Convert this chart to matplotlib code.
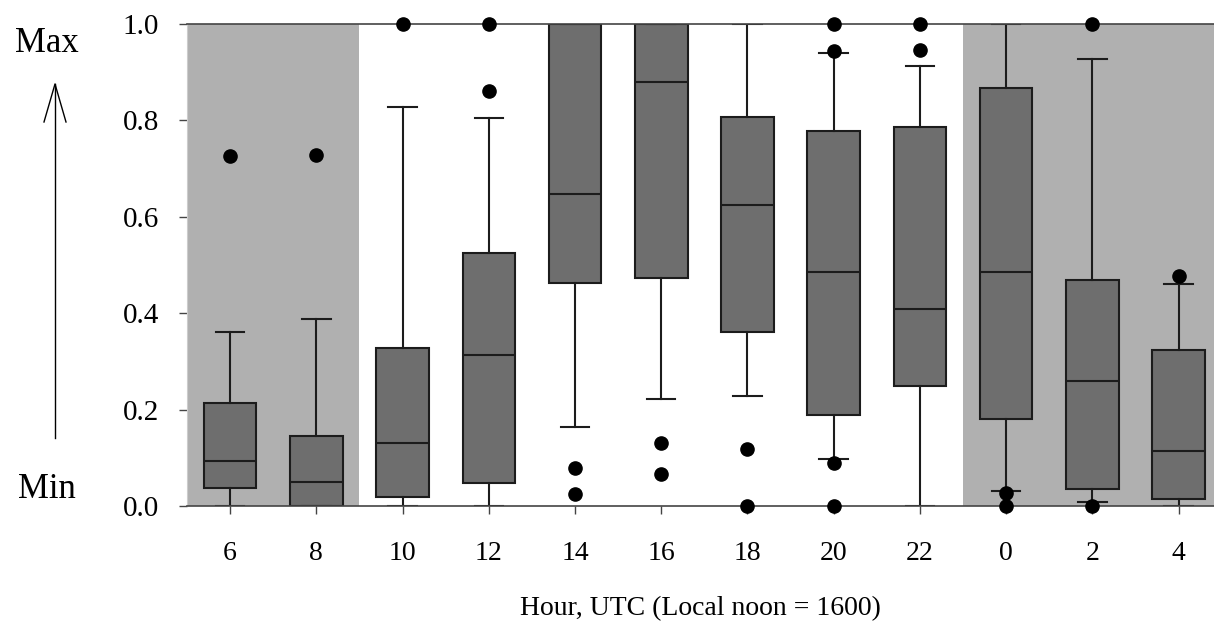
import matplotlib
matplotlib.use("Agg")
import matplotlib.pyplot as plt
from matplotlib.lines import Line2D

hours = ["6", "8", "10", "12", "14", "16", "18", "20", "22", "0", "2", "4"]
whislo = [0.0, 0.0, 0.0, 0.0, 0.163, 0.221, 0.228, 0.0975, 0.0, 0.031, 0.009, 0.0]
q1 = [0.037, 0.0, 0.019, 0.048, 0.463, 0.472, 0.360, 0.189, 0.248, 0.181, 0.035, 0.0145]
med = [0.093, 0.050, 0.130, 0.313, 0.648, 0.880, 0.624, 0.486, 0.408, 0.485, 0.259, 0.114]
q3 = [0.213, 0.145, 0.327, 0.524, 1.0, 1.0, 0.808, 0.779, 0.786, 0.867, 0.468, 0.323]
whishi = [0.360, 0.389, 0.828, 0.804, 1.0, 1.0, 1.0, 0.939, 0.913, 1.0, 0.927, 0.460]
fliers = [
    [0.727],
    [0.729],
    [1.0],
    [1.0, 0.860],
    [0.0795, 0.024],
    [0.131, 0.066],
    [0.118, 0.0],
    [1.0, 0.945, 0.0886, 0.0],
    [1.0, 0.946],
    [0.0276, 0.0],
    [1.0, 0.0],
    [0.478],
]
night_spans = [(-0.5, 1.5), (8.5, 11.6)]

plt.rcParams['font.family'] = ['Liberation Serif', 'DejaVu Serif']

fig = plt.figure(figsize=(12.14, 6.21), dpi=100)
ax = fig.add_axes([187/1214, 115/621, 1 - 187/1214, 482/621])

for a, b in night_spans:
    ax.axvspan(a, b, color="#b0b0b0", lw=0, zorder=0)

stats = []
for i in range(len(hours)):
    stats.append(dict(whislo=whislo[i], q1=q1[i], med=med[i], q3=q3[i],
                      whishi=whishi[i], fliers=fliers[i], label=hours[i]))

ec = "#1c1c1c"
lw = 1.5
res = ax.bxp(stats, positions=list(range(len(hours))), widths=0.61,
             capwidths=0.33, patch_artist=True, manage_ticks=False,
             boxprops=dict(facecolor="#6e6e6e", edgecolor=ec, linewidth=lw),
             medianprops=dict(color=ec, linewidth=lw),
             whiskerprops=dict(color=ec, linewidth=lw),
             capprops=dict(color=ec, linewidth=lw),
             flierprops=dict(marker="o", markerfacecolor="black",
                             markeredgecolor="black", markersize=9.5,
                             linestyle="none"))
for f in res["fliers"]:
    f.set_clip_on(False)
    f.set_zorder(5)

ax.set_xlim(-0.5, 11.41)
ax.set_ylim(0, 1.0)
ax.set_xticks(range(len(hours)))
ax.set_xticklabels(hours)
ax.set_yticks([0.0, 0.2, 0.4, 0.6, 0.8, 1.0])
ax.set_yticklabels(["0.0", "0.2", "0.4", "0.6", "0.8", "1.0"])
ax.tick_params(axis="y", direction="out", length=6, width=1, color="#444444",
               labelsize=21, pad=14)
ax.tick_params(axis="x", direction="out", length=6, width=1, color="#444444",
               labelsize=20, pad=19)

for s in ["top", "bottom"]:
    ax.spines[s].set_color("#444444")
    ax.spines[s].set_linewidth(1.2)
ax.spines["left"].set_color("#cccccc")
ax.spines["left"].set_linewidth(0.8)
ax.spines["right"].set_visible(False)

ax.set_xlabel("Hour, UTC (Local noon = 1600)", fontsize=20, labelpad=22)

fig.text(47/1214, 1 - 43/621, "Max", fontsize=25, ha="center", va="center")
fig.text(47/1214, 1 - 490/621, "Min", fontsize=25, ha="center", va="center")

def fx(px):
    return px / 1214
def fy(py):
    return 1 - py / 621

fig.add_artist(Line2D([fx(55), fx(55)], [fy(438), fy(84)], color="black", lw=1))
fig.add_artist(Line2D([fx(44), fx(55), fx(66)], [fy(122), fy(84), fy(122)],
                      color="black", lw=1))

fig.savefig("out.png", dpi=100)
